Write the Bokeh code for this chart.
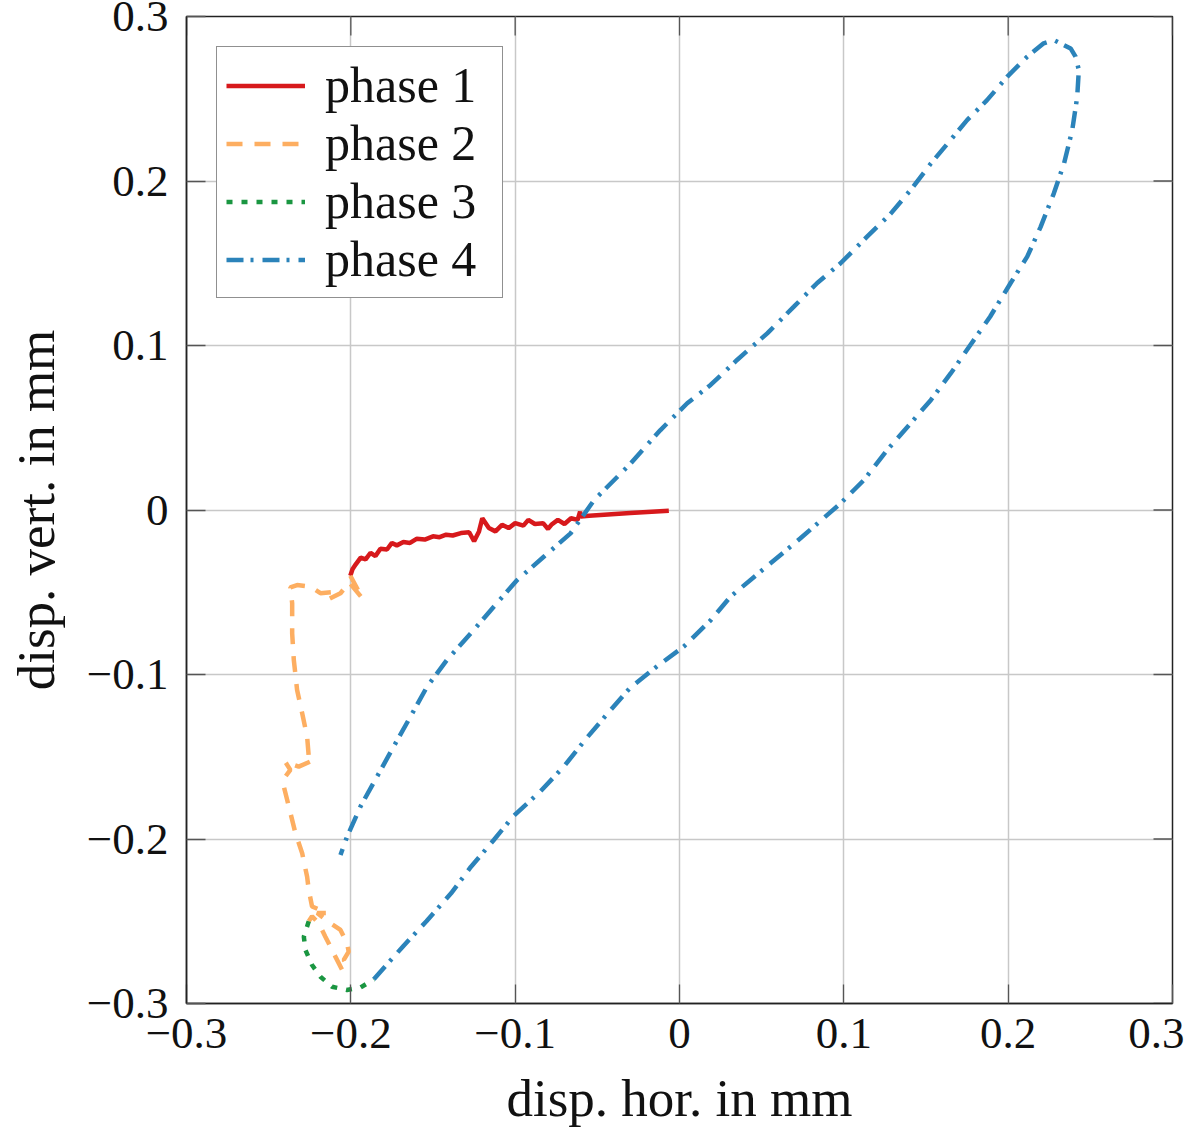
import math
from bokeh.plotting import figure
from bokeh.models import Range1d, FixedTicker, CustomJSTickFormatter
from bokeh.embed import file_html
from bokeh.resources import INLINE

FONT = "Liberation Serif"
FS = "45px"
FS_LABEL = "53px"

# phase 1 (red)
p1_x = [-0.0065, -0.030, -0.055, -0.060, -0.0605, -0.062, -0.066, -0.070, -0.074, -0.078,
        -0.080, -0.083, -0.088, -0.092, -0.095, -0.100, -0.104, -0.108, -0.112, -0.116,
        -0.120, -0.122, -0.125, -0.128, -0.133, -0.138, -0.142, -0.146, -0.150, -0.155,
        -0.160, -0.164, -0.168, -0.172, -0.175, -0.178, -0.182, -0.185, -0.188, -0.191,
        -0.194, -0.197, -0.199, -0.2003]
p1_y = [-0.0004, -0.0018, -0.0035, -0.0040, -0.0010, -0.0060, -0.0050, -0.0085, -0.0060, -0.0090,
        -0.0115, -0.0080, -0.0085, -0.0060, -0.0095, -0.0080, -0.0110, -0.0090, -0.0130, -0.0110,
        -0.0050, -0.0130, -0.0190, -0.0135, -0.0140, -0.0155, -0.0150, -0.0165, -0.0160, -0.0180,
        -0.0175, -0.0200, -0.0195, -0.0215, -0.0200, -0.0240, -0.0235, -0.0280, -0.0260, -0.0300,
        -0.0290, -0.0330, -0.0360, -0.0400]

# phase 2 (orange)
p2_x = [-0.2003, -0.1930, -0.2010, -0.2063, -0.2144, -0.2120, -0.2185, -0.2246, -0.2327, -0.2368,
        -0.2357, -0.2357, -0.2347, -0.2327, -0.2296, -0.2266, -0.2256, -0.2226, -0.2317, -0.2400,
        -0.2368, -0.2398, -0.2408, -0.2388, -0.2368, -0.2337, -0.2296, -0.2266, -0.2256, -0.2236,
        -0.2144, -0.2205, -0.2124, -0.2063, -0.2023, -0.2013, -0.2043, -0.2023, -0.2053, -0.2094,
        -0.2155, -0.2195, -0.2236, -0.2256]
p2_y = [-0.0400, -0.0537, -0.0440, -0.0506, -0.0547, -0.0500, -0.0506, -0.0466, -0.0456, -0.0470,
        -0.0567, -0.0750, -0.0912, -0.1094, -0.1236, -0.1378, -0.1500, -0.1520, -0.1560, -0.1530,
        -0.1580, -0.1620, -0.1680, -0.1760, -0.1840, -0.1965, -0.2087, -0.2230, -0.2310, -0.2410,
        -0.2450, -0.2450, -0.2512, -0.2553, -0.2634, -0.2685, -0.2735, -0.2766, -0.2796, -0.2715,
        -0.2594, -0.2512, -0.2470, -0.2500]

# phase 3 (green)
p3_x = [-0.2256, -0.2286, -0.2276, -0.2236, -0.2185, -0.2114, -0.2023, -0.1940, -0.1860]
p3_y = [-0.2500, -0.2594, -0.2675, -0.2766, -0.2837, -0.2898, -0.2918, -0.2902, -0.2853]

# phase 4 (blue)
p4_x = [-0.186, -0.168, -0.154, -0.139, -0.127, -0.113, -0.101, -0.0846, -0.0704, -0.056,
        -0.044, -0.030, -0.0136, 0.0026, 0.019, 0.031, 0.0736, 0.098, 0.112, 0.126,
        0.1406, 0.153, 0.165, 0.177, 0.189, 0.2015, 0.2116, 0.2197, 0.2278, 0.234,
        0.239, 0.242, 0.243, 0.241, 0.238, 0.2278, 0.2216, 0.2116, 0.1995, 0.187,
        0.175, 0.165, 0.153, 0.1406, 0.1284, 0.114, 0.098, 0.0838, 0.0696, 0.0534,
        0.035, 0.0189, 0.0047, -0.0116, -0.030, -0.052, -0.0663, -0.0826, -0.0988, -0.113,
        -0.127, -0.1414, -0.1536, -0.1637, -0.174, -0.184, -0.194, -0.2023, -0.2063]
p4_y = [-0.2853, -0.265, -0.250, -0.233, -0.217, -0.2006, -0.186, -0.171, -0.156, -0.138,
        -0.124, -0.108, -0.095, -0.083, -0.067, -0.0527, -0.0172, 0.004, 0.018, 0.036,
        0.0527, 0.0669, 0.083, 0.1003, 0.1175, 0.138, 0.154, 0.172, 0.1925, 0.2107,
        0.231, 0.251, 0.2675, 0.2756, 0.2806, 0.2857, 0.2837, 0.2756, 0.2635, 0.249,
        0.237, 0.225, 0.2107, 0.1945, 0.180, 0.166, 0.150, 0.138, 0.1236, 0.1074,
        0.0912, 0.076, 0.0649, 0.0486, 0.028, 0.006, -0.0142, -0.0284, -0.0426, -0.0588,
        -0.075, -0.091, -0.1074, -0.1256, -0.1439, -0.162, -0.180, -0.1986, -0.2097]

ticks = [-0.3, -0.2, -0.1, 0.0, 0.1, 0.2, 0.3]
axis_min, axis_max = -0.3, 0.3
series_names = ["phase 1", "phase 2", "phase 3", "phase 4"]
series_colors = ["#d7191c", "#fdae61", "#1a9641", "#2b83ba"]
x_label = "disp. hor. in mm"
y_label = "disp. vert. in mm"

p = figure(width=1184, height=1131, x_range=Range1d(axis_min, axis_max),
           y_range=Range1d(axis_min, axis_max),
           output_backend="svg", toolbar_location=None,
           min_border_left=186, min_border_right=12, min_border_top=16, min_border_bottom=128)

fmt = CustomJSTickFormatter(code="""
if (Math.abs(tick) < 1e-9) { return '0'; }
var s = Math.abs(tick).toFixed(1);
return (tick < 0 ? '\u2212' : '') + s;
""")

TICK_COLOR = "#555555"
for ax in (p.xaxis[0], p.yaxis[0]):
    ax.ticker = FixedTicker(ticks=ticks)
    ax.formatter = fmt
    ax.major_label_text_font = FONT
    ax.major_label_text_font_size = FS
    ax.axis_label_text_font = FONT
    ax.axis_label_text_font_size = FS_LABEL
    ax.axis_label_text_font_style = "normal"
    ax.major_tick_in = 19
    ax.major_tick_out = 0
    ax.minor_tick_line_color = None
    ax.major_tick_line_color = TICK_COLOR
    ax.major_tick_line_width = 1.3
    ax.axis_line_color = "#222222"
    ax.axis_line_width = 1.5
    ax.major_label_text_color = "#111111"
    ax.axis_label_text_color = "#111111"

p.xaxis[0].axis_label = x_label
p.yaxis[0].axis_label = y_label
p.xaxis[0].major_label_standoff = 15
p.yaxis[0].major_label_standoff = 18
p.xaxis[0].axis_label_standoff = 18
p.yaxis[0].axis_label_standoff = 19

p.outline_line_color = "#222222"
p.outline_line_width = 1.5
p.xgrid.ticker = FixedTicker(ticks=ticks)
p.ygrid.ticker = FixedTicker(ticks=ticks)
p.xgrid.grid_line_color = "#c8c8c8"
p.ygrid.grid_line_color = "#c8c8c8"
p.xgrid.grid_line_width = 1.5
p.ygrid.grid_line_width = 1.5

# mirrored tick marks on the top and right frame edges
p.ray(x=ticks, y=[axis_max] * len(ticks), length=19, length_units="screen",
      angle=-math.pi / 2, line_color=TICK_COLOR, line_width=1.3)
p.ray(x=[axis_max] * len(ticks), y=ticks, length=19, length_units="screen",
      angle=math.pi, line_color=TICK_COLOR, line_width=1.3)

LW = 4.5
p.line(p1_x, p1_y, line_color=series_colors[0], line_width=LW, legend_label=series_names[0])
p.line(p2_x, p2_y, line_color=series_colors[1], line_width=LW, line_dash="16 12",
       legend_label=series_names[1])
p.line(p3_x, p3_y, line_color=series_colors[2], line_width=LW, line_dash="6 9",
       legend_label=series_names[2])
p.line(p4_x, p4_y, line_color=series_colors[3], line_width=LW, line_dash="17 7 3 9",
       legend_label=series_names[3])

lg = p.legend[0]
lg.location = "top_left"
lg.margin = 30
lg.padding = 9
lg.spacing = 0
lg.glyph_height = 55
lg.glyph_width = 79
lg.label_standoff = 20
lg.label_width = 168
lg.label_text_font = FONT
lg.label_text_font_size = "50px"
lg.label_text_color = "#111111"
lg.border_line_color = "#222222"
lg.border_line_width = 1.5
lg.background_fill_alpha = 1.0

open("out.html", "w").write(file_html(p, INLINE))
